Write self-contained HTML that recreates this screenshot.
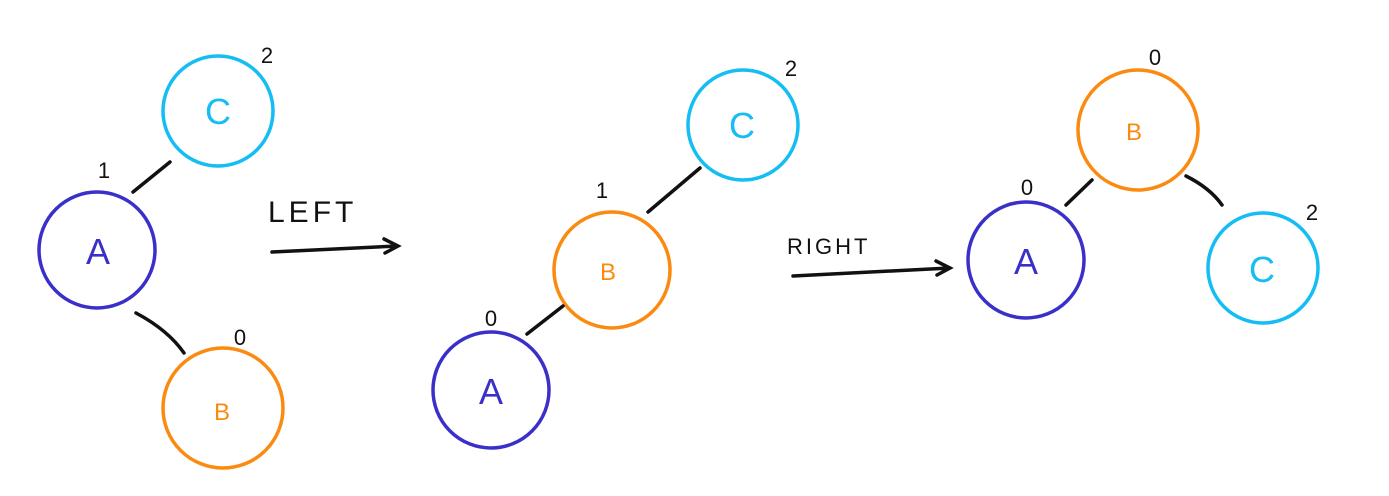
<!DOCTYPE html>
<html><head><meta charset="utf-8"><style>
html,body{margin:0;padding:0;background:#fff;width:1389px;height:496px;overflow:hidden}
svg text{font-family:"Liberation Sans",sans-serif}
</style></head><body>
<svg width="1389" height="496" viewBox="0 0 1389 496" xmlns="http://www.w3.org/2000/svg">
<g fill="none" stroke-width="3.5" stroke-linecap="round">
  <!-- diagram 1 -->
  <circle cx="218" cy="111" r="55" stroke="#14bdf3"/>
  <circle cx="97" cy="250" r="58" stroke="#3a30c9"/>
  <circle cx="223" cy="408" r="60" stroke="#fb8a10"/>
  <line x1="133" y1="192" x2="170" y2="162" stroke="#111"/>
  <path d="M136 313 Q168 330 184 353" stroke="#111"/>
  <!-- diagram 2 -->
  <circle cx="743" cy="125" r="55" stroke="#14bdf3"/>
  <circle cx="612" cy="270" r="58" stroke="#fb8a10"/>
  <circle cx="491" cy="390" r="58" stroke="#3a30c9"/>
  <line x1="648" y1="212" x2="700" y2="168" stroke="#111"/>
  <line x1="527" y1="334" x2="563" y2="306" stroke="#111"/>
  <!-- diagram 3 -->
  <circle cx="1138" cy="130" r="60" stroke="#fb8a10"/>
  <circle cx="1026" cy="260" r="58" stroke="#3a30c9"/>
  <circle cx="1263" cy="268" r="55" stroke="#14bdf3"/>
  <line x1="1066" y1="205" x2="1092" y2="180" stroke="#111"/>
  <path d="M1186 176 Q1210 188 1222 205" stroke="#111"/>
  <!-- arrows -->
  <path d="M272 252 L398 246 M384 239 L398 246 L385 253" stroke="#111"/>
  <path d="M793 276 L950 268 M936 261 L950 268 L937 275" stroke="#111"/>
</g>
<g text-anchor="middle" font-size="36">
  <text x="218" y="124" fill="#14bdf3">C</text>
  <text x="98" y="264" fill="#3a30c9">A</text>
  <text x="222" y="420" fill="#fb8a10" font-size="24">B</text>
  <text x="742" y="138" fill="#14bdf3">C</text>
  <text x="608" y="280" fill="#fb8a10" font-size="24">B</text>
  <text x="491" y="404" fill="#3a30c9">A</text>
  <text x="1134" y="140" fill="#fb8a10" font-size="24">B</text>
  <text x="1026" y="274" fill="#3a30c9">A</text>
  <text x="1262" y="282" fill="#14bdf3">C</text>
</g>
<g text-anchor="middle" font-size="22" fill="#111">
  <text x="267" y="63">2</text>
  <text x="104" y="178">1</text>
  <text x="240" y="345">0</text>
  <text x="791" y="76">2</text>
  <text x="602" y="198">1</text>
  <text x="491" y="326">0</text>
  <text x="1155" y="65">0</text>
  <text x="1027" y="195">0</text>
  <text x="1312" y="220">2</text>
</g>
<text x="268" y="222" font-size="30" fill="#111" letter-spacing="4">LEFT</text>
<text x="787" y="254" font-size="22" fill="#111" letter-spacing="3">RIGHT</text>
</svg>
</body></html>
